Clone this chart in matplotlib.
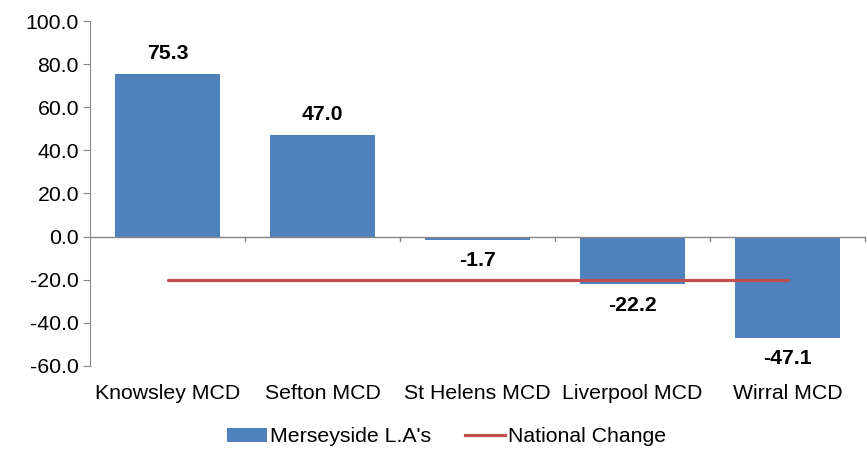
import matplotlib
matplotlib.use("Agg")
import matplotlib.pyplot as plt
from matplotlib.patches import Patch
from matplotlib.lines import Line2D

plt.rcParams['font.family'] = ['Liberation Sans', 'DejaVu Sans']

categories = ["Knowsley MCD", "Sefton MCD", "St Helens MCD", "Liverpool MCD", "Wirral MCD"]
la_change = [75.3, 47.0, -1.7, -22.2, -47.1]
national_change = [-20.0, -20.0, -20.0, -20.0, -20.0]
y_ticks = [-60, -40, -20, 0, 20, 40, 60, 80, 100]

blue = "#4F81BD"
red = "#C0504D"
axis_grey = "#868686"
fs = 15.3

fig = plt.figure(figsize=(8.67, 4.49), dpi=100)
ax = fig.add_axes([0.1038, 0.1849, 0.894, 0.7683])

x = list(range(len(categories)))
ax.bar(x, la_change, width=0.68, color=blue, zorder=2)
ax.plot(x, national_change, color=red, linewidth=2.3, solid_capstyle='round', zorder=3)

ax.set_xlim(-0.5, len(categories) - 0.5)
ax.set_ylim(-60, 100)
ax.set_yticks(y_ticks)
ax.set_yticklabels([f"{v:.1f}" for v in y_ticks], fontsize=fs)

# data labels
for xi, v in zip(x, la_change):
    if v >= 0:
        ax.annotate(f"{v:.1f}", (xi, v), xytext=(0, 8), textcoords='offset points',
                    ha='center', va='bottom', fontsize=fs, fontweight='bold')
    else:
        ax.annotate(f"{v:.1f}", (xi, v), xytext=(0, -8), textcoords='offset points',
                    ha='center', va='top', fontsize=fs, fontweight='bold')

# axes styling
for s in ['top', 'right', 'bottom']:
    ax.spines[s].set_visible(False)
ax.spines['left'].set_color(axis_grey)
ax.axhline(0, color=axis_grey, linewidth=1.0, zorder=4)
ax.tick_params(axis='y', direction='out', length=5, color=axis_grey, pad=3)

# category labels below the plot; tick marks at category boundaries on the zero line
ax.set_xticks([])
for xi, name in zip(x, categories):
    ax.annotate(name, (xi, -60), xytext=(0, -13), textcoords='offset points',
                ha='center', va='top', fontsize=fs, annotation_clip=False)
for b in [i + 0.5 for i in range(len(categories))]:
    ax.plot([b, b], [0, -2.2], color=axis_grey, linewidth=1.0, clip_on=False, zorder=4)

handles = [Patch(facecolor=blue, edgecolor='none', label="Merseyside L.A's"),
           Line2D([0], [0], color=red, linewidth=2.3, label="National Change")]
fig.legend(handles=handles, loc='center', bbox_to_anchor=(0.515, 0.027), ncol=2,
           frameon=False, fontsize=fs, handlelength=1.86, handletextpad=0.15,
           columnspacing=1.6, borderpad=0)

fig.savefig("out.png", dpi=100)
